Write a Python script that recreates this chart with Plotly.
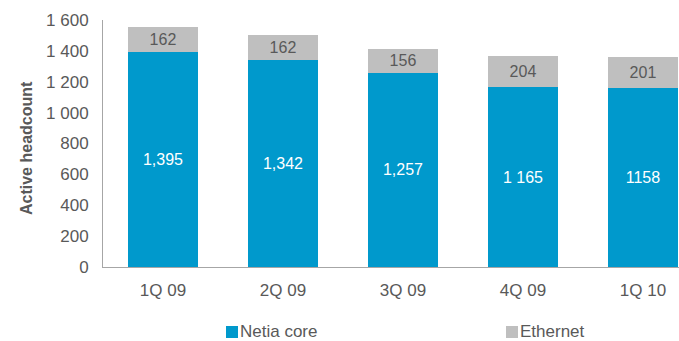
import plotly.graph_objects as go

quarters = ["1Q 09", "2Q 09", "3Q 09", "4Q 09", "1Q 10"]
netia_core = [1395, 1342, 1257, 1165, 1158]
ethernet = [162, 162, 156, 204, 201]
core_labels = ["1,395", "1,342", "1,257", "1 165", "1158"]
ethernet_labels = ["162", "162", "156", "204", "201"]
series_names = ["Netia core", "Ethernet"]

BLUE = "#0099CC"
GREY = "#BFBFBF"
TEXT = "#595959"
FONT = "Liberation Sans, Arial, sans-serif"

W, H = 679, 341
L, T, B = 103, 20, 74
PW, PH = W - L, H - T - B


def px_x(x):
    return (x - L) / PW


def px_y(y):
    return (H - B - y) / PH


fig = go.Figure()
fig.add_trace(go.Bar(
    x=quarters, y=netia_core, name=series_names[0],
    marker=dict(color=BLUE, line=dict(width=0)),
    text=core_labels, textposition="inside", insidetextanchor="middle",
    textfont=dict(color="white", size=16, family=FONT),
    width=0.59,
))
fig.add_trace(go.Bar(
    x=quarters, y=ethernet, name=series_names[1],
    marker=dict(color=GREY, line=dict(width=0)),
    text=ethernet_labels, textposition="inside", insidetextanchor="middle",
    textfont=dict(color=TEXT, size=16, family=FONT),
    width=0.59,
))

# legend drawn as square swatches with text next to them, below the axis
legend_x = [226, 506]
legend_colors = [BLUE, GREY]
for name, px, col in zip(series_names, legend_x, legend_colors):
    fig.add_shape(
        type="rect", xref="paper", yref="paper",
        x0=px_x(px), x1=px_x(px + 12),
        y0=px_y(338), y1=px_y(326),
        fillcolor=col, line=dict(width=0),
    )
    fig.add_annotation(
        xref="paper", yref="paper",
        x=px_x(px + 13), y=px_y(331.5),
        xanchor="left", yanchor="middle", showarrow=False,
        text=name, font=dict(size=17, color=TEXT, family=FONT),
        borderpad=0,
    )

# vertical axis title
fig.add_annotation(
    xref="paper", yref="paper", x=px_x(26), y=px_y(148),
    xanchor="center", yanchor="middle", showarrow=False, textangle=-90,
    text="<b>Active headcount</b>", font=dict(size=16, color=TEXT, family=FONT),
)

fig.update_layout(
    barmode="stack",
    width=W, height=H,
    margin=dict(l=L, r=0, t=T, b=B, autoexpand=False),
    paper_bgcolor="white", plot_bgcolor="white",
    font=dict(family=FONT, color=TEXT, size=17),
    separators=". ",
    uniformtext=dict(mode="show", minsize=8),
    showlegend=False,
    xaxis=dict(
        range=[-0.5, 4.3], showline=True, linecolor="#A6A6A6", linewidth=1,
        ticks="", tickfont=dict(size=17, color=TEXT), showgrid=False,
        ticklabelstandoff=8,
    ),
    yaxis=dict(
        range=[0, 1600], dtick=200, tickformat=",d",
        showline=True, linecolor="#A6A6A6", linewidth=1,
        showgrid=False, zeroline=False, ticks="",
        tickfont=dict(size=17, color=TEXT),
        ticklabelstandoff=10,
    ),
)

fig.write_html("out.html")
